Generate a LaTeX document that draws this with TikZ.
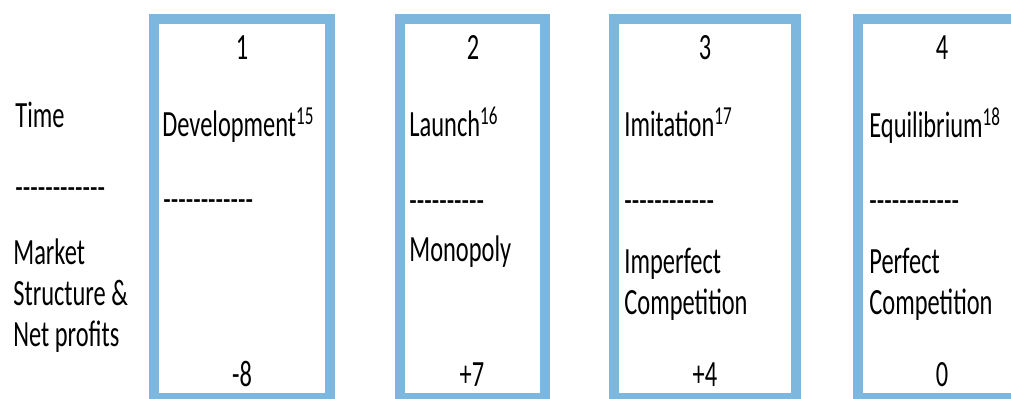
\documentclass[tikz,border=0pt]{standalone}
\usepackage{fontspec}
\usepackage{tikz}
\newfontfamily\stagefont[FakeStretch=0.66]{Carlito}
\definecolor{stageblue}{RGB}{125,183,222}
\newcommand\dashrow[1]{\foreach \d in {1,...,#1}{-}}

\begin{document}
\begin{tikzpicture}[x=0.5pt,y=-0.5pt,
    every node/.style={font=\stagefont\fontsize{18.5}{20.5}\selectfont, inner sep=0pt, text=black},
    stage/.style={draw=stageblue, line width=5pt}]
    \useasboundingbox (0,0) rectangle (1011,399);
    \clip (0,0) rectangle (1011,399);
    % Draw the stage boxes and their numbers
    \foreach \n/\l/\r/\c in {1/154/330/242, 2/400/545/473, 3/614/796/705}{
      \draw[stage] (\l,19) rectangle (\r,398);
      \node[anchor=base] (num\n) at (\c,60) {\n};
    }
    % the last box runs on past the right edge
    \draw[stage] (1020,19) -- (858,19) -- (858,398) -- (1020,398);
    \node[anchor=base] (num4) at (942,60) {4};
    % Row labels on the left
    \node[anchor=base west] (time) at (15,128) {Time};
    \node[anchor=base west] (sep0) at (15,200) {\dashrow{12}};
    \node[anchor=base west, align=left] (market) at (13,347) {Market\\Structure \&\\Net profits};
    % Names of the stages
    \node[anchor=base west] (title1) at (162,137) {Development\textsuperscript{15}};
    \node[anchor=base west] (title2) at (409,137) {Launch\textsuperscript{16}};
    \node[anchor=base west] (title3) at (624,137) {Imitation\textsuperscript{17}};
    \node[anchor=base west] (title4) at (869,138) {Equilibrium\textsuperscript{18}};
    \node[anchor=base west] (sep1) at (163,212) {\dashrow{12}};
    \node[anchor=base west] (sep2) at (409,213) {\dashrow{10}};
    \node[anchor=base west] (sep3) at (624,213) {\dashrow{12}};
    \node[anchor=base west] (sep4) at (869,213) {\dashrow{12}};
    % Market structure of each stage
    \node[anchor=base west] (mkt2) at (409,262) {Monopoly};
    \node[anchor=base west, align=left] (mkt3) at (624,315) {Imperfect\\Competition};
    \node[anchor=base west, align=left] (mkt4) at (869,315) {Perfect\\Competition};
    % Net profits
    \node[anchor=base] (val1) at (242,387) {-8};
    \node[anchor=base] (val2) at (472,387) {+7};
    \node[anchor=base] (val3) at (705,387) {+4};
    \node[anchor=base] (val4) at (942,387) {0};
\end{tikzpicture}
\end{document}
